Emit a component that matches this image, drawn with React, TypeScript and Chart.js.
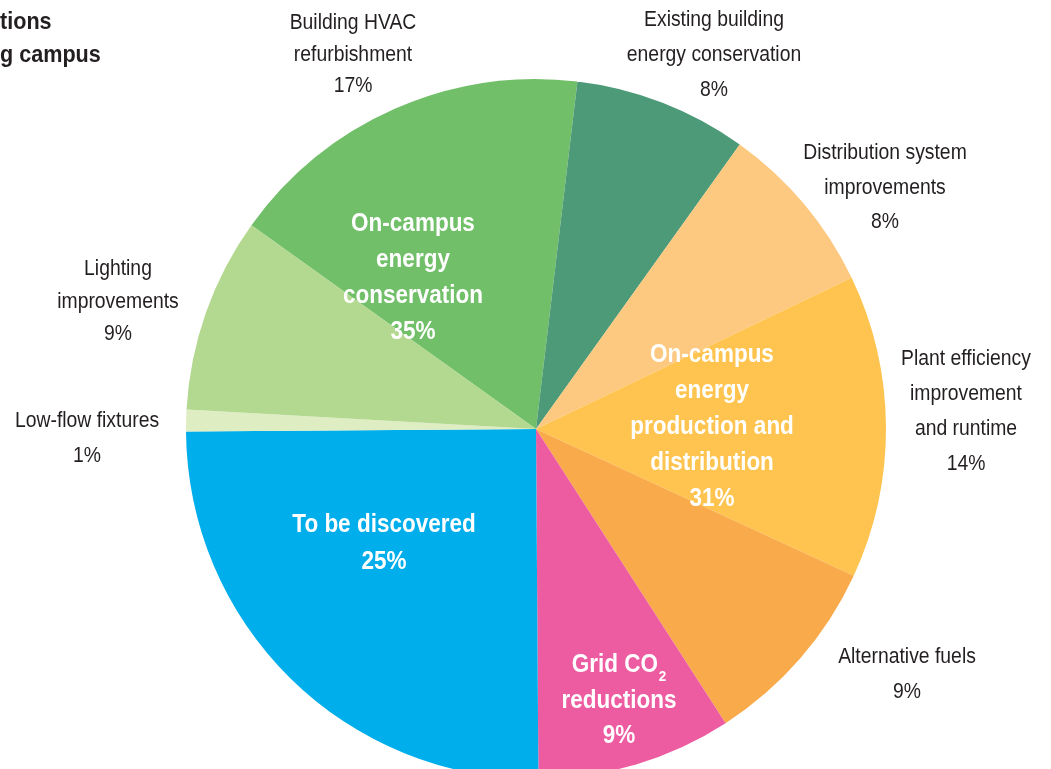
import React, { useEffect, useRef } from "react";
import { Chart, registerables } from "chart.js";

Chart.register(...registerables);

// ---------- data ----------
const categories = [
  "Building HVAC refurbishment",
  "Existing building energy conservation",
  "Distribution system improvements",
  "Plant efficiency improvement and runtime",
  "Alternative fuels",
  "Grid CO2 reductions",
  "To be discovered",
  "Low-flow fixtures",
  "Lighting improvements",
];
const shares = [17, 8, 8, 14, 9, 9, 25, 1, 9];
const sliceColors = [
  "#72BF6A",
  "#4D9A78",
  "#FDC87F",
  "#FEC44F",
  "#F9AB4C",
  "#ED5BA0",
  "#00AEEC",
  "#DFEDC3",
  "#B3D88F",
];

// outer label text lines (percentage appended from shares)
const outerLabelLines = [
  ["Building HVAC", "refurbishment"],
  ["Existing building", "energy conservation"],
  ["Distribution system", "improvements"],
  ["Plant efficiency", "improvement", "and runtime"],
  ["Alternative fuels"],
  null,
  null,
  ["Low-flow fixtures"],
  ["Lighting", "improvements"],
];
// layout of outer labels: [centerX, firstBaseline, lineHeight]
const outerLabelLayout = [
  [353, 29, 31.7],
  [714, 26, 35],
  [885, 159, 34.5],
  [966, 365, 35],
  [907, 663, 35],
  null,
  null,
  [87, 427, 35],
  [118, 275, 32.5],
];

// group (inner) labels
const groupLines = [
  ["On-campus", "energy", "conservation"],
  ["On-campus", "energy", "production and", "distribution"],
  ["To be discovered"],
  ["Grid CO_2", "reductions"],
];
const groupMembers = [
  [0, 1, 7, 8],
  [2, 3, 4],
  [6],
  [5],
];
const groupLayout = [
  [413, 231, 36],
  [712, 362, 36],
  [384, 532, 37],
  [619, 672, 35.5],
];

const titleLines = ["tions", "g campus"];

// ---------- helpers ----------
function hasFont(name: string): boolean {
  const c = document.createElement("canvas").getContext("2d");
  if (!c) return false;
  const sample = "refurbishment HVAC Wgm 0123";
  c.font = "40px monospace";
  const a = c.measureText(sample).width;
  c.font = `40px "${name}", monospace`;
  const b = c.measureText(sample).width;
  return Math.abs(a - b) > 0.5;
}

export default function App() {
  const canvasRef = useRef<HTMLCanvasElement | null>(null);

  useEffect(() => {
    const canvas = canvasRef.current;
    if (!canvas) return;
    const narrow = hasFont("Liberation Sans Narrow");
    const family = narrow ? '"Liberation Sans Narrow"' : '"Liberation Sans"';
    const sxRegular = narrow ? 1.075 : 0.88;
    const sxBold = narrow ? 1.11 : 0.9;

    const drawText = (
      ctx: CanvasRenderingContext2D,
      text: string,
      x: number,
      y: number,
      font: string,
      color: string,
      align: CanvasTextAlign,
      sx: number
    ) => {
      ctx.save();
      ctx.font = font;
      ctx.fillStyle = color;
      ctx.textBaseline = "alphabetic";
      ctx.translate(x, y);
      ctx.scale(sx, 1);
      if (text.includes("_")) {
        const [main, sub] = text.split("_");
        const subFont = font.replace(/\d+px/, "15px");
        const wMain = ctx.measureText(main).width;
        ctx.font = subFont;
        const wSub = ctx.measureText(sub).width;
        const total = wMain + wSub + 1;
        const start = align === "center" ? -total / 2 : 0;
        ctx.textAlign = "left";
        ctx.font = font;
        ctx.fillText(main, start, 0);
        ctx.font = subFont;
        ctx.fillText(sub, start + wMain + 1, 9);
      } else {
        ctx.textAlign = align;
        ctx.fillText(text, 0, 0);
      }
      ctx.restore();
    };

    const labelPlugin = {
      id: "pieLabels",
      afterDraw(chart: any) {
        const ctx: CanvasRenderingContext2D = chart.ctx;
        const regular = `22px ${family}, sans-serif`;
        const bold = `bold 25px ${family}, sans-serif`;
        const titleFont = `bold 24px ${family}, sans-serif`;
        const dark = "#231F20";

        // partial title at the top-left
        drawText(ctx, titleLines[0], 0, 29, titleFont, dark, "left", sxBold);
        drawText(ctx, titleLines[1], 0, 62, titleFont, dark, "left", sxBold);

        // outer labels
        outerLabelLines.forEach((lines, i) => {
          const lay = outerLabelLayout[i];
          if (!lines || !lay) return;
          const all = [...lines, `${shares[i]}%`];
          all.forEach((t, k) => {
            drawText(ctx, t, lay[0], lay[1] + k * lay[2], regular, dark, "center", sxRegular);
          });
        });

        // inner group labels
        groupLines.forEach((lines, g) => {
          const lay = groupLayout[g];
          const total = groupMembers[g].reduce((s, idx) => s + shares[idx], 0);
          const all = [...lines, `${total}%`];
          all.forEach((t, k) => {
            drawText(ctx, t, lay[0], lay[1] + k * lay[2], bold, "#FFFFFF", "center", sxBold);
          });
        });
      },
    };

    const chart = new Chart(canvas, {
      type: "pie",
      data: {
        labels: categories,
        datasets: [
          {
            data: shares,
            backgroundColor: sliceColors,
            borderWidth: 0,
          },
        ],
      },
      options: {
        responsive: false,
        animation: false,
        rotation: -54.4,
        layout: { padding: { left: 186, right: 165, top: 79, bottom: 21 } },
        plugins: {
          legend: { display: false },
          tooltip: { enabled: false },
        },
      },
      plugins: [labelPlugin],
    });

    return () => {
      chart.destroy();
    };
  }, []);

  return (
    <div
      style={{
        position: "fixed",
        left: 0,
        top: 0,
        width: 1051,
        height: 769,
        overflow: "hidden",
        background: "#FFFFFF",
      }}
    >
      <canvas
        ref={canvasRef}
        width={1051}
        height={800}
        style={{ display: "block", width: 1051, height: 800 }}
      />
    </div>
  );
}
